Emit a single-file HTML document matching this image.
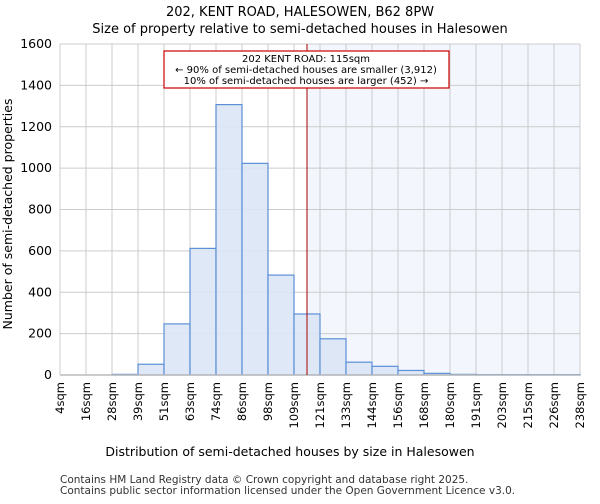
<!DOCTYPE html>
<html><head><meta charset="utf-8"><style>
body{margin:0;background:#fff;font-family:"DejaVu Sans","Liberation Sans",sans-serif}
</style></head><body>
<svg width="600" height="500" xmlns="http://www.w3.org/2000/svg" font-family="DejaVu Sans, Liberation Sans, sans-serif">
<text x="300" y="16" text-anchor="middle" font-size="13">202, KENT ROAD, HALESOWEN, B62 8PW</text>
<text x="300" y="33" text-anchor="middle" font-size="13">Size of property relative to semi-detached houses in Halesowen</text>
<g id="plot"></g>
<text x="290" y="456" text-anchor="middle" font-size="12.5">Distribution of semi-detached houses by size in Halesowen</text>
<text transform="translate(12,214) rotate(-90)" text-anchor="middle" font-size="12.5">Number of semi-detached properties</text>
<text x="60" y="483" font-size="10.5" fill="#333">Contains HM Land Registry data © Crown copyright and database right 2025.</text>
<text x="60" y="494" font-size="10.5" fill="#333">Contains public sector information licensed under the Open Government Licence v3.0.</text>
</svg>
<script>
const categories=["4sqm","16sqm","28sqm","39sqm","51sqm","63sqm","74sqm","86sqm","98sqm","109sqm","121sqm","133sqm","144sqm","156sqm","168sqm","180sqm","191sqm","203sqm","215sqm","226sqm","238sqm"];
const counts=[0,0,3,52,247,612,1307,1023,483,295,175,62,42,22,8,3,2,2,2,2];
const yTicks=[0,200,400,600,800,1000,1200,1400,1600];
const markerValue=115;
const binEdges=[4,16,28,39,51,63,74,86,98,109,121,133,144,156,168,180,191,203,215,226,238];
const NS="http://www.w3.org/2000/svg";
const L=60,R=580,T=44,B=375,yMax=1600;
const bw=(R-L)/counts.length;
const xs=i=>L+i*bw;
const ys=v=>B-v/yMax*(B-T);
function xv(v){for(let i=0;i<binEdges.length-1;i++){if(v<=binEdges[i+1])return xs(i)+(v-binEdges[i])/(binEdges[i+1]-binEdges[i])*bw;}return R;}
const g=document.getElementById('plot');
function mk(t,a){const e=document.createElementNS(NS,t);for(const k in a)e.setAttribute(k,a[k]);g.appendChild(e);return e;}
const mx=xv(markerValue);
let e=mk('rect',{x:mx,y:T,width:R-mx,height:B-T,fill:'#f3f6fd'});


yTicks.forEach(v=>{let l=mk('line',{x1:L,x2:R,y1:ys(v),y2:ys(v),stroke:'#cccccc','stroke-width':1});


let t=mk('text',{x:L-8,y:ys(v)+4,'text-anchor':'end','font-size':'12.5'});t.textContent=v;

});
categories.forEach((c,i)=>{let l=mk('line',{x1:xs(i),x2:xs(i),y1:T,y2:B,stroke:'#cccccc','stroke-width':1});


let t=mk('text',{transform:`translate(${xs(i)+4},${B+7}) rotate(-90)`,'text-anchor':'end','font-size':'11.5'});t.textContent=c;

});
counts.forEach((v,i)=>{let r=mk('rect',{x:xs(i),y:ys(v),width:bw,height:B-ys(v),fill:'#dce6f5',stroke:'#5b8fd6','stroke-width':1.2,'fill-opacity':0.9});

});
let ax=mk('line',{x1:L,x2:R,y1:B,y2:B,stroke:'#bbbbbb','stroke-width':1.5});


let ml=mk('line',{x1:mx,x2:mx,y1:T,y2:B,stroke:'#aa0000','stroke-width':1});


let box=mk('rect',{x:164,y:51,width:285,height:37,fill:'#fff',stroke:'#cc0000','stroke-width':1.2});


["202 KENT ROAD: 115sqm","← 90% of semi-detached houses are smaller (3,912)","10% of semi-detached houses are larger (452) →"].forEach((s,i)=>{let t=mk('text',{x:306,y:62+i*11,'text-anchor':'middle','font-size':'10'});t.textContent=s;

});
</script>
</body></html>
